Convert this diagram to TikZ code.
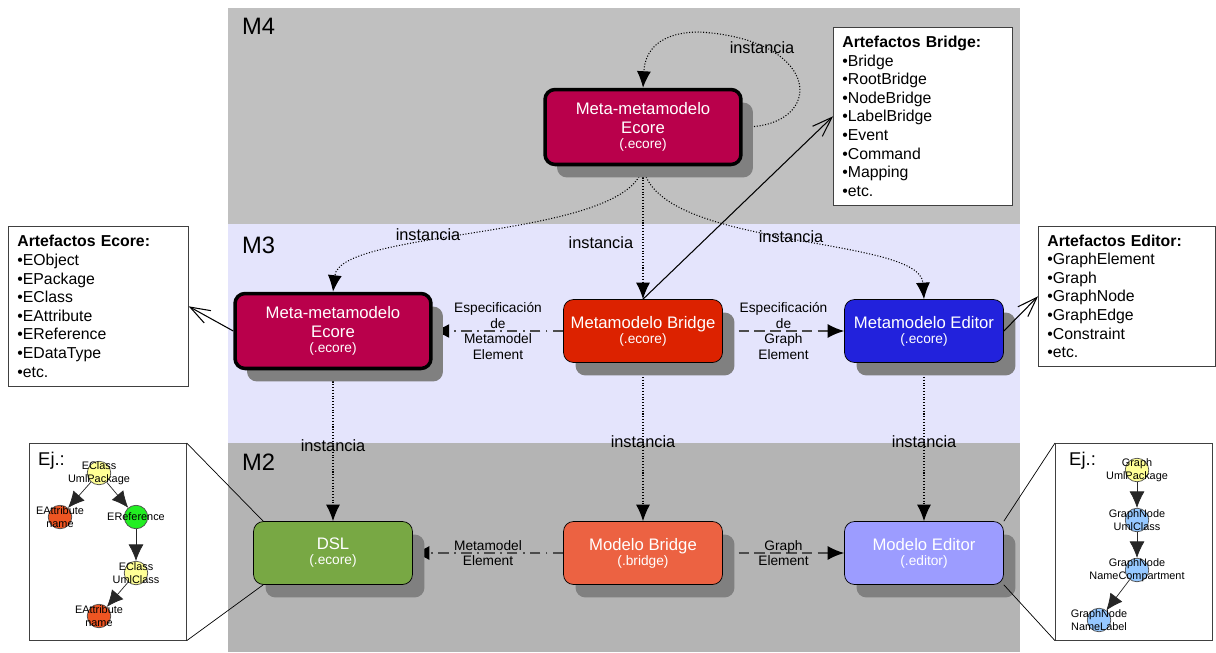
\documentclass[tikz,border=0pt]{standalone}
\usepackage{fontspec}
\setmainfont{Liberation Sans}
\usepackage{tikz}
\usetikzlibrary{arrows.meta,shadows}
\pgfdeclarelayer{bands}
\pgfdeclarelayer{links}
\pgfsetlayers{bands,links,main}

\definecolor{bandfour}{RGB}{192,192,192}
\definecolor{bandthree}{RGB}{228,228,252}
\definecolor{bandtwo}{RGB}{180,180,180}
\definecolor{ecorered}{RGB}{185,0,75}
\definecolor{bridgered}{RGB}{220,34,0}
\definecolor{editorblue}{RGB}{34,34,220}
\definecolor{dslgreen}{RGB}{120,168,68}
\definecolor{modelred}{RGB}{236,98,66}
\definecolor{modelblue}{RGB}{156,156,255}
\definecolor{shade}{RGB}{128,128,128}
\definecolor{treeyellow}{RGB}{255,255,150}
\definecolor{treeorange}{RGB}{238,85,34}
\definecolor{treegreen}{RGB}{34,238,34}
\definecolor{treeblue}{RGB}{150,200,255}

\newcommand{\fileext}[1]{{\fontsize{7.8}{8.6}\selectfont #1}}

\begin{document}
\begin{tikzpicture}[x=0.02cm,y=-0.02cm,
    level/.style={anchor=base west,font=\fontsize{13.5}{15}\selectfont},
    model/.style={draw=black,rounded corners=0.2cm,text=white,align=center,
      minimum width=3.18cm,minimum height=1.26cm,font=\fontsize{9.5}{8.6}\selectfont,
      general shadow={fill=shade,shadow xshift=0.24cm,shadow yshift=-0.26cm}},
    metamodel/.style={model,line width=2pt,minimum width=3.92cm,minimum height=1.5cm},
    artefacts/.style={draw=black!75,fill=white,align=left,anchor=north west,
      inner xsep=0.18cm,font=\fontsize{9}{10.6}\selectfont},
    example/.style={draw=black!75,fill=white,anchor=north west,
      minimum width=3.14cm,minimum height=3.94cm},
    treenode/.style={circle,draw=black!70,minimum size=0.47cm,inner sep=0pt},
    every label/.style={align=center,font=\fontsize{6.2}{7.2}\selectfont},
    treearrow/.style={-{Latex[length=3.3mm,width=3mm]},black!85},
    inst/.style={densely dotted,line width=0.6pt,-{Latex[length=3.3mm,width=2.8mm]}},
    tag/.style={font=\fontsize{9.3}{11}\selectfont},
    spec/.style={align=center,text=black,font=\fontsize{7.8}{9}\selectfont},
    specleft/.style={black!70,line width=0.9pt,dash pattern=on 6pt off 3pt on 1pt off 3pt,
      -{Latex[length=3.3mm,width=2.8mm,color=black]}},
    specright/.style={black!70,line width=0.9pt,dash pattern=on 6pt off 3pt,
      -{Latex[length=3.3mm,width=2.8mm,color=black]}},
    artarrow/.style={-{Straight Barb[length=4mm,width=2.8mm]},line width=0.6pt}]

  \useasboundingbox (0,0) rectangle (1216,652);

  % levels
  \begin{pgfonlayer}{bands}
    \fill[bandfour] (228,8) rectangle (1020,224);
    \fill[bandthree] (228,224) rectangle (1020,443);
    \fill[bandtwo] (228,443) rectangle (1020,652);
  \end{pgfonlayer}
  \node[level] (mfour) at (236,35) {M4};
  \node[level] (mthree) at (236,253) {M3};
  \node[level] (mtwo) at (236,470) {M2};

  % models
  \node[metamodel,fill=ecorered] (mmm) at (643,127) {Meta-metamodelo\\[2.5pt]Ecore\\\fileext{(.ecore)}};
  \node[metamodel,fill=ecorered] (ecore) at (333,331) {Meta-metamodelo\\[2.5pt]Ecore\\\fileext{(.ecore)}};
  \node[model,fill=bridgered] (mbridge) at (643,331) {Metamodelo Bridge\\\fileext{(.ecore)}};
  \node[model,fill=editorblue] (meditor) at (924,331) {Metamodelo Editor\\\fileext{(.ecore)}};
  \node[model,fill=dslgreen] (dsl) at (333,553) {DSL\\\fileext{(.ecore)}};
  \node[model,fill=modelred] (bridge) at (643,553) {Modelo Bridge\\\fileext{(.bridge)}};
  \node[model,fill=modelblue] (editor) at (924,553) {Modelo Editor\\\fileext{(.editor)}};

  % artefacts
  \node[artefacts,text width=3.24cm,minimum height=3.2cm] (arte) at (8,226)
    {\textbf{Artefactos Ecore:}\\•EObject\\•EPackage\\•EClass\\•EAttribute\\•EReference\\•EDataType\\•etc.};
  \node[artefacts,text width=3.22cm,minimum height=3.56cm] (artb) at (833,27)
    {\textbf{Artefactos Bridge:}\\•Bridge\\•RootBridge\\•NodeBridge\\•LabelBridge\\•Event\\•Command\\•Mapping\\•etc.};
  \node[artefacts,text width=3.18cm,minimum height=2.8cm] (arted) at (1038,226)
    {\textbf{Artefactos Editor:}\\•GraphElement\\•Graph\\•GraphNode\\•GraphEdge\\•Constraint\\•etc.};

  % links
  \begin{pgfonlayer}{links}
    \draw[inst] (mmm.east) .. controls (825,128) and (825,40) .. (700,32)
      .. controls (660,32) and (645,50) .. (mmm.north);
    \draw[inst] (mmm.south) .. controls (630,240) and (340,228) .. (ecore.north);
    \draw[inst] (mmm.south) -- node[pos=0.575,left=2pt,tag] {instancia} (mbridge.north);
    \draw[inst] (mmm.south) .. controls (655,250) and (920,235) .. (meditor.north);
    \draw[inst] (ecore.south) -- node[tag] {instancia} (dsl.north);
    \draw[inst] (mbridge.south) -- node[tag] {instancia} (bridge.north);
    \draw[inst] (meditor.south) -- node[tag] {instancia} (editor.north);
    \draw[specleft] (mbridge.west) -- node[spec] {Especificación\\de\\Metamodel\\Element} (ecore.east);
    \draw[specright] (mbridge.east) -- node[spec] {Especificación\\de\\Graph\\Element} (meditor.west);
    \draw[specleft] (bridge.west) -- node[spec] {Metamodel\\Element} (dsl.east);
    \draw[specright] (bridge.east) -- node[spec] {Graph\\Element} (editor.west);
  \end{pgfonlayer}
  \node[tag] (tself) at (762,48) {instancia};
  \node[tag] (tleft) at (428,235) {instancia};
  \node[tag] (tright) at (791,237) {instancia};
  \draw[artarrow] (ecore.west) -- (arte.east);
  \draw[artarrow] (mbridge.north) -- (artb.west);
  \draw[artarrow] (meditor.east) -- (arted.west);

  % examples
  \node[example] (ejleft) at (29,443) {};
  \node[example] (ejright) at (1055,443) {};
  \node[anchor=base west,font=\fontsize{10.5}{12}\selectfont] at (32,465) {Ej.:};
  \node[anchor=base west,font=\fontsize{10.5}{12}\selectfont] at (1063,465) {Ej.:};
  \draw (ejleft.north east) -- ([xshift=0.2cm]dsl.north west);
  \draw (ejleft.south east) -- ([xshift=0.2cm]dsl.south west);
  \draw (ejright.north west) -- (editor.north east);
  \draw (ejright.south west) -- (editor.south east);

  \node[treenode,fill=treeyellow,label={center:EClass\\UmlPackage}] (pkg) at (99,473) {};
  \node[treenode,fill=treeorange,label={center:EAttribute\\name}] (attone) at (60,517) {};
  \node[treenode,fill=treegreen,label={center:EReference}] (ref) at (136,517) {};
  \node[treenode,fill=treeyellow,label={center:EClass\\UmlClass}] (cls) at (136,573) {};
  \node[treenode,fill=treeorange,label={center:EAttribute\\name}] (atttwo) at (99,616) {};
  \draw[treearrow] (pkg) -- (attone);
  \draw[treearrow] (pkg) -- (ref);
  \draw[treearrow] (ref) -- (cls);
  \draw[treearrow] (cls) -- (atttwo);

  \node[treenode,fill=treeyellow,label={center:Graph\\UmlPackage}] (gpkg) at (1137,470) {};
  \node[treenode,fill=treeblue,label={center:GraphNode\\UmlClass}] (gcls) at (1137,520) {};
  \node[treenode,fill=treeblue,label={center:GraphNode\\NameCompartment}] (gcmp) at (1137,570) {};
  \node[treenode,fill=treeblue,label={center:GraphNode\\NameLabel}] (glbl) at (1099,620) {};
  \draw[treearrow] (gpkg) -- (gcls);
  \draw[treearrow] (gcls) -- (gcmp);
  \draw[treearrow] (gcmp) -- (glbl);
\end{tikzpicture}
\end{document}
